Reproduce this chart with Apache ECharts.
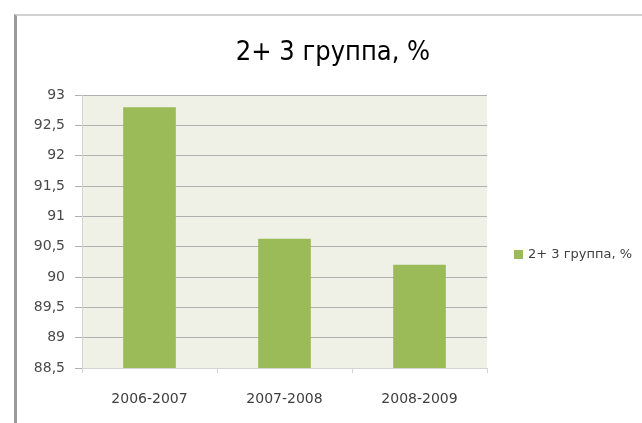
<!DOCTYPE html>
<html>
<head>
<meta charset="utf-8">
<script src="https://cdn.jsdelivr.net/npm/echarts@6/dist/echarts.min.js"></script>
<style>
    html, body { margin: 0; padding: 0; background: #fff; overflow: hidden; }
    #frame {
        position: absolute; left: 14px; top: 14px; width: 640px; height: 420px;
        border-left: 3px solid #9a9a9a; border-top: 2px solid #d2d2d2;
    }
    #chart { position: absolute; left: 0; top: 0; width: 642px; height: 423px; }
</style>
</head>
<body>
<div id="frame"></div>
<div id="chart"></div>
<script>
    // данные диаграммы
    const categories = ['2006-2007', '2007-2008', '2008-2009'];
    const seriesName = '2+ 3 группа, %';
    const values = [92.8, 90.63, 90.2];
    const yTicks = [88.5, 89, 89.5, 90, 90.5, 91, 91.5, 92, 92.5, 93];

    const myChart = echarts.init(document.getElementById('chart'), null, {renderer: 'canvas'});

    myChart.setOption({
        backgroundColor: 'transparent',
        animation: false,
        title: {
            text: seriesName,
            left: 328,
            top: 34,
            textAlign: 'center',
            textStyle: {
                fontFamily: '"DejaVu Sans Condensed", "DejaVu Sans", sans-serif',
                fontSize: 27,
                fontWeight: 'normal',
                color: '#000'
            }
        },
        legend: {
            data: [seriesName],
            orient: 'vertical',
            left: 509,
            top: 243,
            itemWidth: 9,
            itemHeight: 9,
            itemGap: 4,
            icon: 'rect',
            textStyle: {fontSize: 13, color: '#404040', fontFamily: 'DejaVu Sans', padding: [0, 0, 0, 0]}
        },
        grid: {
            left: 82,
            top: 95,
            right: 155,
            bottom: 55,
            show: true,
            backgroundColor: '#eff1e7',
            borderWidth: 0
        },
        xAxis: {
            type: 'category',
            data: categories,
            axisLine: {lineStyle: {color: '#d4d4d4', width: 1}},
            axisTick: {show: true, length: 5, lineStyle: {color: '#d4d4d4'}},
            axisLabel: {margin: 24, fontSize: 14, color: '#404040', fontFamily: 'DejaVu Sans'}
        },
        yAxis: {
            type: 'value',
            min: yTicks[0],
            max: yTicks[yTicks.length - 1],
            interval: 0.5,
            axisLine: {show: true, lineStyle: {color: '#d4d4d4', width: 1}},
            axisTick: {show: true, length: 7, lineStyle: {color: '#b0b0b0'}},
            axisLabel: {
                margin: 17, fontSize: 14, color: '#4a4a4a',
                fontFamily: 'DejaVu Sans',
                formatter: function (v) { return String(v).replace('.', ','); }
            },
            splitLine: {show: true, lineStyle: {color: '#b0b0b0', width: 1}}
        },
        series: [
            {
                name: seriesName,
                type: 'bar',
                data: values,
                barWidth: '39%',
                itemStyle: {color: '#9bbb59'}
            }
        ]
    });
</script>
</body>
</html>
